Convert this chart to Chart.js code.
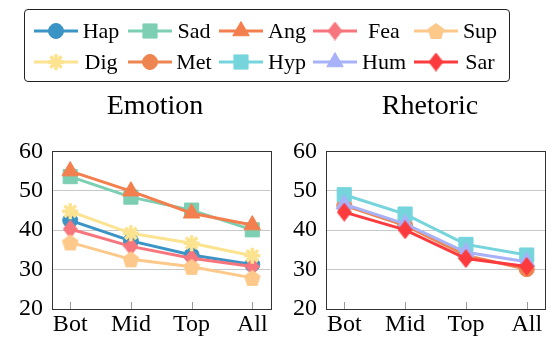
<!DOCTYPE html>
<html lang="en">
<head>
<meta charset="UTF-8">
<title>Emotion / Rhetoric</title>
<script src="https://cdn.jsdelivr.net/npm/chart.js"></script>
<style>
    body, html {
        margin: 0;
        padding: 0;
        width: 556px;
        height: 340px;
        overflow: hidden;
        background: #ffffff;
        font-family: 'Liberation Serif', 'Times New Roman', serif;
        color: #000;
    }
    .legend {
        position: absolute;
        left: 24px;
        top: 9px;
        width: 484px;
        height: 71px;
        border: 1px solid #222;
        border-radius: 4px;
    }
    .item canvas { position: absolute; }
    .item span {
        position: absolute;
        width: 60px;
        text-align: center;
        font-size: 22px;
        line-height: 26px;
    }
    .title {
        position: absolute;
        top: 91px;
        width: 200px;
        text-align: center;
        font-size: 28px;
        line-height: 28px;
    }
    #emoWrap { position: absolute; left: 0; top: 128px; }
    #rhetWrap { position: absolute; left: 282px; top: 128px; }
</style>
</head>
<body>
<div class="legend" id="legend"></div>
<div class="title" style="left:55px">Emotion</div>
<div class="title" style="left:330px">Rhetoric</div>
<div id="emoWrap"><canvas id="emotionChart" width="282" height="212"></canvas></div>
<div id="rhetWrap"><canvas id="rhetoricChart" width="274" height="212"></canvas></div>

<script>
// ---- data ----
const categories = ['Bot', 'Mid', 'Top', 'All'];
const yTicks = [20, 30, 40, 50, 60];

const hap = [42.5, 37.3, 33.7, 31.3];
const sad = [53.6, 48.4, 45.1, 40.1];
const ang = [55.0, 49.9, 44.3, 41.3];
const fea = [40.3, 35.9, 32.9, 30.8];
const sup = [36.9, 32.6, 30.7, 27.9];
const dig = [44.8, 39.2, 36.7, 33.5];

const met = [46.3, 41.2, 33.6, 30.1];
const hyp = [49.0, 44.1, 36.4, 33.7];
const hum = [46.6, 41.6, 34.4, 32.0];
const sar = [44.6, 40.1, 32.8, 30.8];

// ---- styles ----
function makeMarker(shape, color) {
    const c = document.createElement('canvas');
    if (shape === 'pentagon') { c.width = 18; c.height = 18; }
    else { c.width = 15; c.height = 19; }
    const ctx = c.getContext('2d');
    ctx.fillStyle = color;
    ctx.beginPath();
    if (shape === 'pentagon') {
        for (let k = 0; k < 5; k++) {
            const a = -Math.PI / 2 + k * 2 * Math.PI / 5;
            const px = 9 + 8.8 * Math.cos(a), py = 9.8 + 8.8 * Math.sin(a);
            k ? ctx.lineTo(px, py) : ctx.moveTo(px, py);
        }
    } else { // tall diamond
        ctx.moveTo(7.5, 0); ctx.lineTo(15, 9.5); ctx.lineTo(7.5, 19); ctx.lineTo(0, 9.5);
    }
    ctx.closePath();
    ctx.fill();
    return c;
}

const series = {
    Hap: { data: hap, color: '#3b94c6', style: 'circle', r: 7.5 },
    Sad: { data: sad, color: '#7dcfb4', style: 'rect', r: 10 },
    Ang: { data: ang, color: '#f47f4e', style: 'triangle', r: 9.5 },
    Fea: { data: fea, color: '#f7767e', style: 'diamond', r: 8 },
    Sup: { data: sup, color: '#fdc98b', style: 'pentagon', r: 8 },
    Dig: { data: dig, color: '#fce38f', style: 'star', r: 8 },
    Met: { data: met, color: '#ee8550', style: 'circle', r: 7.5 },
    Hyp: { data: hyp, color: '#76d5dc', style: 'rect', r: 10 },
    Hum: { data: hum, color: '#a7b2f8', style: 'triangle', r: 9.5 },
    Sar: { data: sar, color: '#fc3b3e', style: 'diamond', r: 8 }
};
const legendOrder = ['Hap', 'Sad', 'Ang', 'Fea', 'Sup', 'Dig', 'Met', 'Hyp', 'Hum', 'Sar'];

function pointStyleOf(s) {
    if (s.style === 'pentagon' || s.style === 'diamond') return makeMarker(s.style, s.color);
    return s.style;
}

function makeDataset(name, i, n) {
    const s = series[name];
    return {
        label: name,
        data: s.data.map((v, k) => ({ x: k, y: v })),
        borderColor: s.color,
        backgroundColor: s.color,
        borderWidth: 3,
        tension: 0,
        pointStyle: pointStyleOf(s),
        pointRadius: s.r,
        pointBackgroundColor: s.color,
        pointBorderColor: s.color,
        pointBorderWidth: s.style === 'star' ? 3.5 : 1,
        order: n - i // later series on top, like the source
    };
}

// frame + inner x tick marks
const framePlugin = {
    id: 'frame',
    afterDatasetsDraw(chart) {
        const { ctx, chartArea: a, scales } = chart;
        ctx.save();
        ctx.strokeStyle = '#9a9a9a';
        ctx.lineWidth = 1;
        categories.forEach((c, k) => {
            const x = Math.round(scales.x.getPixelForValue(k)) + 0.5;
            ctx.beginPath();
            ctx.moveTo(x, a.bottom);
            ctx.lineTo(x, a.bottom - 7);
            ctx.stroke();
        });
        ctx.strokeStyle = '#333';
        ctx.strokeRect(Math.round(a.left) + 0.5, Math.round(a.top) + 0.5,
            Math.round(a.right - a.left), Math.round(a.bottom - a.top));
        ctx.restore();
    }
};

function makeChart(id, names, axisWidth) {
    const tickFont = { family: "'Liberation Serif', 'Times New Roman', serif", size: 24 };
    return new Chart(document.getElementById(id), {
        type: 'line',
        data: { datasets: names.map((nm, i) => makeDataset(nm, i, names.length)) },
        options: {
            responsive: false,
            devicePixelRatio: 1,
            animation: false,
            layout: { padding: { top: 13, right: 4, left: 0, bottom: 0 } },
            plugins: { legend: { display: false }, tooltip: { enabled: false } },
            scales: {
                x: {
                    type: 'linear',
                    min: -0.3,
                    max: 3.3,
                    afterBuildTicks: sc => { sc.ticks = categories.map((c, k) => ({ value: k })); },
                    afterFit: sc => { sc.height = 31; },
                    ticks: { callback: v => categories[v], color: '#000', font: tickFont, padding: 1, maxRotation: 0 },
                    grid: { display: false, drawTicks: false },
                    border: { display: false }
                },
                y: {
                    min: 20,
                    max: 60,
                    afterBuildTicks: sc => { sc.ticks = yTicks.map(v => ({ value: v })); },
                    afterFit: sc => { sc.width = axisWidth; },
                    ticks: { color: '#000', font: tickFont, padding: 9 },
                    grid: { color: '#c8c8c8', lineWidth: 1, drawTicks: false },
                    border: { display: false }
                }
            }
        },
        plugins: [framePlugin]
    });
}

makeChart('emotionChart', ['Hap', 'Sad', 'Ang', 'Fea', 'Sup', 'Dig'], 52);
makeChart('rhetoricChart', ['Met', 'Hyp', 'Hum', 'Sar'], 44);

// ---- legend (two rows of five, line sample + marker + centred name) ----
const colSample = [9, 103, 194, 288, 389];
const colText = [46, 139, 232, 329, 425];
const legend = document.getElementById('legend');
legendOrder.forEach((name, i) => {
    const s = series[name];
    const row = Math.floor(i / 5), col = i % 5;
    const top = 8 + row * 31;
    const item = document.createElement('div');
    item.className = 'item';
    const cv = document.createElement('canvas');
    cv.width = 44; cv.height = 26;
    cv.style.left = colSample[col] + 'px';
    cv.style.top = top + 'px';
    const span = document.createElement('span');
    span.textContent = name;
    span.style.left = colText[col] + 'px';
    span.style.top = top + 'px';
    item.appendChild(cv);
    item.appendChild(span);
    legend.appendChild(item);

    const ctx = cv.getContext('2d');
    ctx.strokeStyle = s.color;
    ctx.fillStyle = s.color;
    ctx.lineWidth = 3;
    ctx.beginPath();
    ctx.moveTo(0, 13); ctx.lineTo(44, 13);
    ctx.stroke();
    const ps = pointStyleOf(s);
    ctx.lineWidth = s.style === 'star' ? 3.5 : 1;
    Chart.helpers.drawPoint(ctx, { pointStyle: ps, radius: s.r, rotation: 0, borderWidth: ctx.lineWidth }, 22, 13);
});
</script>
</body>
</html>
